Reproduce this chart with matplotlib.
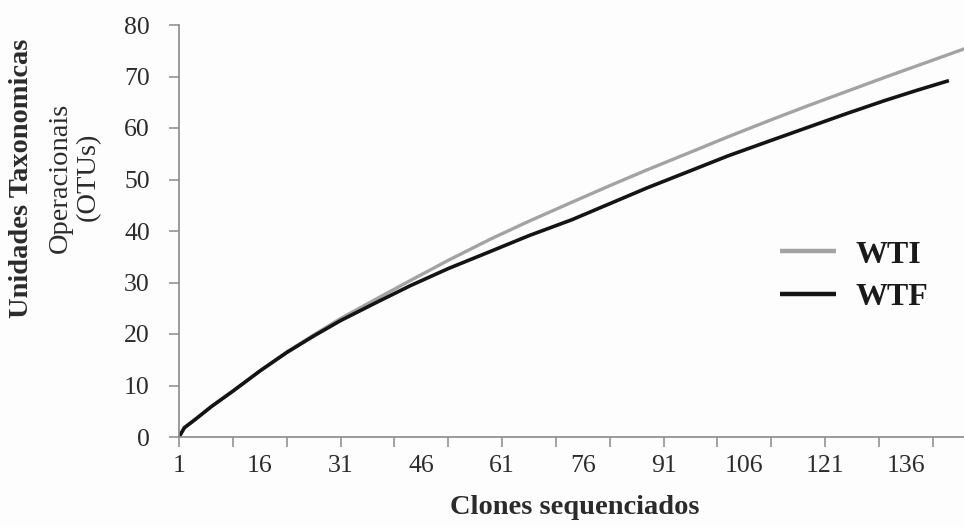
"""Rarefaction curves of OTUs against sequenced clones for the WTI and WTF libraries."""

import matplotlib

matplotlib.use("Agg")
import matplotlib.pyplot as plt

# Rarefaction values (clones sequenced vs. observed OTUs)
WTI_CLONES = [1, 2, 4, 7, 11, 16, 21, 26, 31, 38, 44, 51, 59, 66, 74, 81, 88, 96, 103, 111, 118, 125, 132, 140, 148]
WTI_OTUS = [0, 1.8, 3.4, 5.9, 8.9, 12.8, 16.5, 19.8, 23.0, 27.0, 30.4, 34.3, 38.5, 41.9, 45.6, 48.8, 51.9,
            55.3, 58.3, 61.6, 64.4, 67.1, 69.8, 72.8, 75.8]
WTF_CLONES = [1, 2, 4, 7, 11, 16, 21, 26, 31, 38, 44, 51, 59, 66, 74, 81, 88, 96, 103, 111, 118, 125, 132, 138, 144]
WTF_OTUS = [0, 1.8, 3.4, 5.9, 8.9, 12.8, 16.4, 19.6, 22.6, 26.3, 29.4, 32.7, 36.1, 39.1, 42.2, 45.3, 48.4,
            51.7, 54.6, 57.6, 60.2, 62.8, 65.3, 67.3, 69.2]

X_LABEL_TICKS = [1, 16, 31, 46, 61, 76, 91, 106, 121, 136]
X_MARK_TICKS = list(range(1, 142, 10))
Y_TICKS = list(range(0, 81, 10))

SERIF = ["Liberation Serif", "DejaVu Serif"]
AXIS_GREY = "#8a8a8a"
TEXT = "#2b2b2b"

plt.rcParams["font.family"] = SERIF

fig = plt.figure(figsize=(9.64, 5.27), dpi=100)
fig.patch.set_facecolor("#fdfdfd")
ax = fig.add_axes([179 / 964, 90 / 527, 785 / 964, 412 / 527])
ax.set_facecolor("#fdfdfd")

ax.plot(WTI_CLONES, WTI_OTUS, color="#a3a3a3", linewidth=2.4, label="WTI", solid_capstyle="butt")
ax.plot(WTF_CLONES, WTF_OTUS, color="#141414", linewidth=2.6, label="WTF", solid_capstyle="butt")

ax.set_xlim(1, 146.8)
ax.set_ylim(0, 80)

for side in ("top", "right"):
    ax.spines[side].set_visible(False)
for side in ("left", "bottom"):
    ax.spines[side].set_color(AXIS_GREY)
    ax.spines[side].set_linewidth(1.2)

# tick marks every 10 clones, labels every 15
ax.xaxis.remove_overlapping_locs = False
ax.set_xticks(X_MARK_TICKS)
ax.set_xticklabels([])
ax.set_xticks(X_LABEL_TICKS, minor=True)
ax.set_xticklabels([str(v) for v in X_LABEL_TICKS], minor=True)
ax.tick_params(axis="x", which="major", direction="out", length=7, width=1.1, color=AXIS_GREY)
ax.tick_params(axis="x", which="minor", length=0, pad=13, labelsize=18.5, labelcolor=TEXT)

ax.set_yticks(Y_TICKS)
ax.tick_params(axis="y", direction="out", length=7, width=1.1, color=AXIS_GREY,
               pad=14, labelsize=18.5, labelcolor=TEXT)

fig.text(575 / 964, 1 - 507 / 527, "Clones sequenciados", ha="center", va="center",
         fontsize=20.5, fontweight="bold", color=TEXT)

fig.text(22 / 964, 1 - 178 / 527, "Unidades Taxonomicas", rotation=90, ha="center", va="center",
         fontsize=20.5, fontweight="bold", color=TEXT)
fig.text(60 / 964, 1 - 178 / 527, "Operacionais", rotation=90, ha="center", va="center",
         fontsize=20.5, color=TEXT)
fig.text(88 / 964, 1 - 177 / 527, "(OTUs)", rotation=90, ha="center", va="center",
         fontsize=20.5, color=TEXT)

leg = ax.legend(loc="center left", bbox_to_anchor=(780 / 964, 1 - 276 / 527),
                bbox_transform=fig.transFigure, frameon=False, borderpad=0, borderaxespad=0,
                handlelength=1.75, handletextpad=0.6, labelspacing=0.4,
                prop={"family": SERIF, "weight": "bold", "size": 23})
for text in leg.get_texts():
    text.set_color("#1a1a1a")
for line in leg.get_lines():
    line.set_linewidth(3.2)

fig.savefig("out.png", dpi=100, facecolor=fig.get_facecolor())
